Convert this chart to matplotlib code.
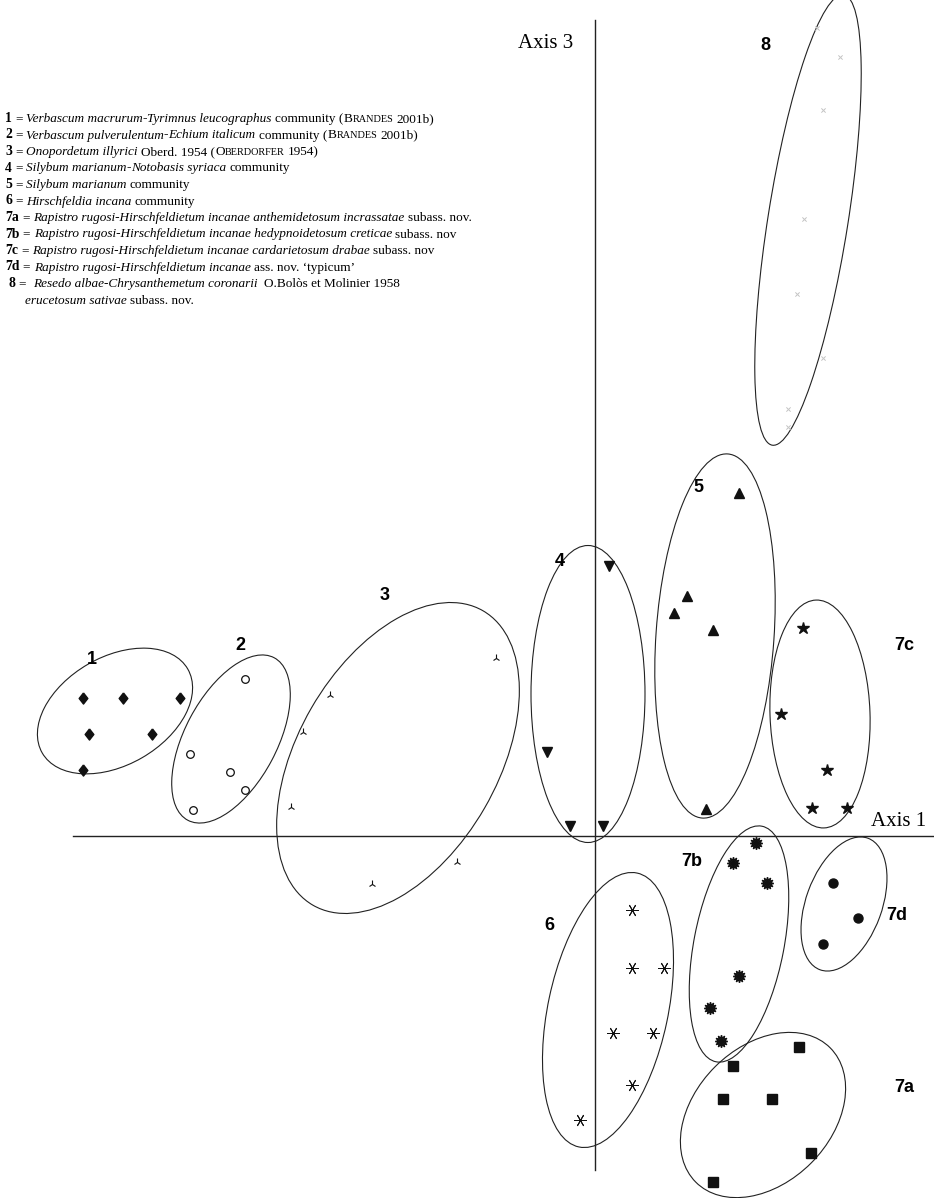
import numpy as np
import matplotlib.pyplot as plt
from matplotlib.patches import Ellipse

# ordination scores (axis 1, axis 3)
g1_x = [-5.12, -4.72, -4.15, -5.06, -4.43, -5.12]
g1_y = [1.38, 1.38, 1.38, 1.02, 1.02, 0.66]
g2_x = [-3.50, -4.05, -3.65, -3.50, -4.02]
g2_y = [1.57, 0.82, 0.64, 0.46, 0.26]
g3_x = [-2.65, -2.92, -3.04, -0.99, -1.38, -2.23]
g3_y = [1.41, 1.04, 0.29, 1.78, -0.26, -0.48]
g4_x = [0.14, -0.48, -0.25, 0.08]
g4_y = [2.70, 0.84, 0.10, 0.10]
g5_x = [1.44, 0.92, 0.79, 1.18, 1.11]
g5_y = [3.43, 2.40, 2.23, 2.06, 0.27]
g6_x = [0.37, 0.37, 0.69, 0.18, 0.58, 0.37, -0.15]
g6_y = [-0.74, -1.32, -1.32, -1.97, -1.97, -2.49, -2.84]
g7a_x = [2.04, 1.38, 1.28, 1.77, 2.16, 1.18]
g7a_y = [-2.11, -2.30, -2.63, -2.63, -3.17, -3.46]
g7b_x = [1.61, 1.38, 1.72, 1.44, 1.15, 1.26]
g7b_y = [-0.07, -0.27, -0.47, -1.40, -1.72, -2.05]
g7c_x = [2.08, 1.86, 2.32, 2.17, 2.52]
g7c_y = [2.08, 1.22, 0.66, 0.28, 0.28]
g7d_x = [2.38, 2.63, 2.28]
g7d_y = [-0.47, -0.82, -1.08]
g8_x = [2.22, 2.45, 2.28, 2.09, 2.02, 2.28, 1.93, 1.93]
g8_y = [8.08, 7.79, 7.26, 6.17, 5.42, 4.78, 4.27, 4.09]

# group envelopes: centre x, centre y, length, width, angle
env_names = ['1', '2', '3', '4', '5', '6', '7a', '7b', '7c', '7d', '8']
env_cx = [-4.80, -3.64, -1.97, -0.07, 1.20, 0.13, 1.68, 1.44, 2.25, 2.49, 2.13]
env_cy = [1.25, 0.97, 0.78, 1.42, 2.00, -1.74, -2.79, -1.08, 1.22, -0.68, 6.16]
env_len = [1.68, 1.84, 3.40, 2.97, 3.65, 2.80, 1.90, 2.40, 2.28, 1.40, 4.56]
env_wid = [1.08, 0.92, 2.00, 1.14, 1.18, 1.20, 1.36, 0.90, 1.00, 0.76, 0.80]
env_ang = [30, 62, 60, 90, 86, 78, 45, 79, 92, 70, 81]

# group number positions
lab_x = [-5.03, -3.55, -2.10, -0.35, 1.03, -0.46, 3.09, 0.97, 3.09, 3.02, 1.70]
lab_y = [1.76, 1.91, 2.41, 2.75, 3.48, -0.89, -2.51, -0.26, 1.91, -0.79, 7.91]

legend_lines = [
    [('1', 'b'), (' = ', 'r'), ('Verbascum macrurum', 'i'), ('-', 'b'),
     ('Tyrimnus leucographus', 'i'), (' community (', 'r'), ('B', 'r'),
     ('RANDES', 's'), (' 2001b)', 'r')],
    [('2', 'b'), (' = ', 'r'), ('Verbascum pulverulentum', 'i'), ('-', 'b'),
     ('Echium italicum', 'i'), (' community (', 'r'), ('B', 'r'),
     ('RANDES', 's'), (' 2001b)', 'r')],
    [('3', 'b'), (' = ', 'r'), ('Onopordetum illyrici', 'i'),
     (' Oberd. 1954 (', 'r'), ('O', 'r'), ('BERDORFER', 's'), (' 1954)', 'r')],
    [('4', 'b'), (' = ', 'r'), ('Silybum marianum', 'i'), ('-', 'b'),
     ('Notobasis syriaca', 'i'), (' community', 'r')],
    [('5', 'b'), (' = ', 'r'), ('Silybum marianum', 'i'), (' community', 'r')],
    [('6', 'b'), (' = ', 'r'), ('Hirschfeldia incana', 'i'), (' community', 'r')],
    [('7a', 'b'), (' = ', 'r'),
     ('Rapistro rugosi-Hirschfeldietum incanae anthemidetosum incrassatae', 'i'),
     (' subass. nov.', 'r')],
    [('7b', 'b'), (' = ', 'r'),
     ('Rapistro rugosi-Hirschfeldietum incanae hedypnoidetosum creticae', 'i'),
     (' subass. nov', 'r')],
    [('7c', 'b'), (' = ', 'r'),
     ('Rapistro rugosi-Hirschfeldietum incanae cardarietosum drabae', 'i'),
     (' subass. nov', 'r')],
    [('7d', 'b'), (' = ', 'r'), ('Rapistro rugosi-Hirschfeldietum incanae', 'i'),
     (' ass. nov. \u2018typicum\u2019', 'r')],
    [(' 8', 'b'), (' =  ', 'r'),
     ('Resedo albae-Chrysanthemetum coronarii', 'i'),
     ('  O.Bol\u00f2s et Molinier 1958', 'r')],
    [('      ', 'r'), ('erucetosum sativae', 'i'), (' subass. nov.', 'r')],
]

W, H = 934, 1198
fig = plt.figure(figsize=(W / 100, H / 100), dpi=100)
ax = fig.add_axes([0, 0, 1, 1])
x0, y0 = 595, 836  # origin in pixels
ax.set_xlim(-x0 / 100, (W - x0) / 100)
ax.set_ylim((y0 - H) / 100, y0 / 100)
ax.axis('off')

lc = '#222222'
ax.plot([(73 - x0) / 100, (W - x0) / 100], [0, 0], color=lc, lw=1.0)
ax.plot([0, 0], [(y0 - 20) / 100, (y0 - 1170) / 100], color=lc, lw=1.0)

for cx, cy, L, Wd, a in zip(env_cx, env_cy, env_len, env_wid, env_ang):
    ax.add_patch(Ellipse((cx, cy), L, Wd, angle=a, fill=False, ec=lc, lw=0.8))

diamond = [(0, 1), (0.78, 0), (0, -1), (-0.78, 0), (0, 1)]
k = dict(ls='none', color='#111111')
ax.plot(g1_x, g1_y, marker=diamond, ms=8, **k)
ax.plot(g2_x, g2_y, marker='o', ms=5.5, mfc='white', mec='#111111', mew=0.9, ls='none')
ax.plot(g3_x, g3_y, marker='2', ms=6, mew=0.8, **k)
ax.plot(g4_x, g4_y, marker='v', ms=7.5, **k)
ax.plot(g5_x, g5_y, marker='^', ms=7.5, **k)
ax.plot(g6_x, g6_y, marker=(6, 2, 90), ms=9, mew=0.7, **k)
ax.plot(g7a_x, g7a_y, marker='s', ms=7, **k)
ax.plot(g7b_x, g7b_y, marker=(12, 1, 0), ms=9, **k)
ax.plot(g7c_x, g7c_y, marker='*', ms=9, **k)
ax.plot(g7d_x, g7d_y, marker='o', ms=6.5, **k)
ax.plot(g8_x, g8_y, marker=(4, 2, 45), ms=4, mew=0.5, ls='none', color='#c8c8c8')

for name, lx, ly in zip(env_names, lab_x, lab_y):
    ax.text(lx, ly, name, fontsize=13, fontweight='bold', family='Liberation Sans',
            ha='center', va='center')

ax.text(-0.22, 7.92, 'Axis 3', fontsize=15, family='Liberation Serif',
        ha='right', va='center')
ax.text(3.31, 0.14, 'Axis 1', fontsize=15, family='Liberation Serif',
        ha='right', va='center')

# legend drawn segment by segment
renderer = fig.canvas.get_renderer()
fs = 9.5
styles = {
    'r': dict(fontsize=fs),
    'i': dict(fontsize=fs, style='italic'),
    'b': dict(fontsize=fs + 0.3, weight='bold'),
    's': dict(fontsize=fs * 0.78),
}


def seg_width(s, st):
    t1 = fig.text(0, 0, '|' + s + '|', family='Liberation Serif', **styles[st])
    t2 = fig.text(0, 0, '||', family='Liberation Serif', **styles[st])
    w = t1.get_window_extent(renderer).width - t2.get_window_extent(renderer).width
    t1.remove()
    t2.remove()
    return w


y_px = 118
for line in legend_lines:
    x_px = 5
    for s, st in line:
        if s.strip():
            lead = len(s) - len(s.lstrip(' '))
            xs = x_px + (seg_width(s[:lead], st) if lead else 0)
            fig.text(xs / W, 1 - (y_px + 4) / H, s.strip(' '), family='Liberation Serif',
                     va='baseline', ha='left', **styles[st])
        x_px += seg_width(s, st)
    y_px += 16.5

fig.savefig('out.png', dpi=100)
